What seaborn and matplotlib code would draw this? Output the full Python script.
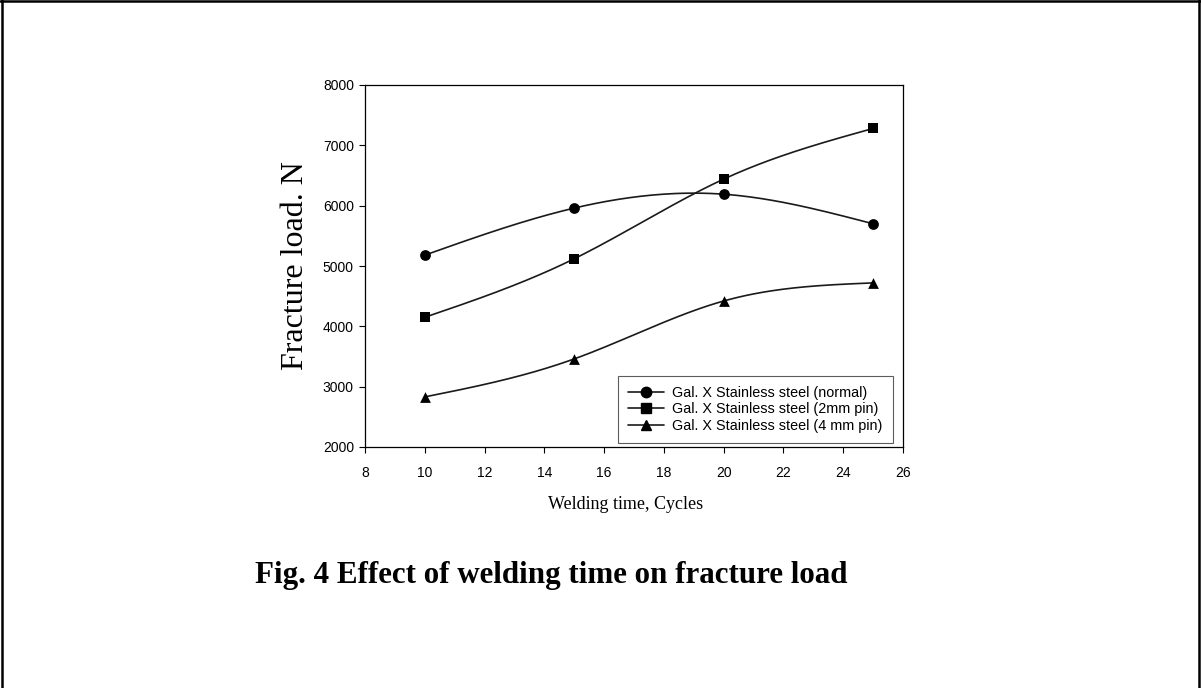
import numpy as np
import pandas as pd
import matplotlib
matplotlib.use("Agg")
import matplotlib.pyplot as plt
import seaborn as sns
from matplotlib.lines import Line2D

# ---------------- data ----------------
welding_time = [10, 15, 20, 25]
load_normal = [5180, 5960, 6190, 5700]
load_2mm = [4150, 5120, 6440, 7280]
load_4mm = [2830, 3460, 4420, 4720]
series_labels = ["Gal. X Stainless steel (normal)",
                 "Gal. X Stainless steel (2mm pin)",
                 "Gal. X Stainless steel (4 mm pin)"]
series_markers = ["o", "s", "^"]
x_ticks = [8, 10, 12, 14, 16, 18, 20, 22, 24, 26]
y_ticks = [2000, 3000, 4000, 5000, 6000, 7000, 8000]
x_label = "Welding time, Cycles"
y_label = "Fracture load. N"
caption = "Fig. 4 Effect of welding time on fracture load"


def natural_spline(x, y, n=200):
    """Smooth curve through the data points (natural cubic spline)."""
    x = np.asarray(x, float)
    y = np.asarray(y, float)
    k = len(x)
    h = np.diff(x)
    A = np.zeros((k, k))
    b = np.zeros(k)
    A[0, 0] = A[-1, -1] = 1.0
    for i in range(1, k - 1):
        A[i, i - 1] = h[i - 1]
        A[i, i] = 2 * (h[i - 1] + h[i])
        A[i, i + 1] = h[i]
        b[i] = 6 * ((y[i + 1] - y[i]) / h[i] - (y[i] - y[i - 1]) / h[i - 1])
    M = np.linalg.solve(A, b)
    xs = np.linspace(x[0], x[-1], n)
    idx = np.clip(np.searchsorted(x, xs) - 1, 0, k - 2)
    x0, x1 = x[idx], x[idx + 1]
    hh = x1 - x0
    t0, t1 = x1 - xs, xs - x0
    ys = (M[idx] * t0 ** 3 + M[idx + 1] * t1 ** 3) / (6 * hh) \
        + (y[idx] / hh - M[idx] * hh / 6) * t0 \
        + (y[idx + 1] / hh - M[idx + 1] * hh / 6) * t1
    return xs, ys


sns.set_style("ticks")
plt.rcParams["font.family"] = ["Liberation Sans", "DejaVu Sans"]
plt.rcParams["text.color"] = "black"
plt.rcParams["axes.labelcolor"] = "black"

W, H = 1201, 688
fig = plt.figure(figsize=(W / 100, H / 100), dpi=100)
ax = fig.add_axes([365 / W, 1 - 447 / H, 538 / W, 362 / H])

line_color = "#1a1a1a"
handles = []
for vals, lab, mk in zip([load_normal, load_2mm, load_4mm], series_labels, series_markers):
    xs, ys = natural_spline(welding_time, vals)
    sns.lineplot(x=xs, y=ys, ax=ax, color=line_color, linewidth=1.2,
                 estimator=None, sort=False, legend=False)
    sns.scatterplot(x=welding_time, y=vals, ax=ax, marker=mk, s=60,
                    color="black", edgecolor="black", linewidth=0, zorder=3,
                    legend=False)
    handles.append(Line2D([], [], color=line_color, linewidth=1.2, marker=mk,
                          markersize=7.5, markerfacecolor="black",
                          markeredgecolor="black", label=lab))

ax.set_xlim(8, 26)
ax.set_ylim(2000, 8000)
ax.set_xticks(x_ticks)
ax.set_yticks(y_ticks)
ax.set_xticklabels([str(v) for v in x_ticks])
ax.set_yticklabels([str(v) for v in y_ticks])
ax.tick_params(axis="both", direction="out", length=4, width=0.8,
               labelsize=10, colors="black")
ax.tick_params(axis="x", pad=10)
ax.tick_params(axis="y", pad=4)
for sp in ax.spines.values():
    sp.set_visible(True)
    sp.set_color("black")
    sp.set_linewidth(0.9)

ax.set_xlabel(x_label, fontsize=13, family="Liberation Serif")
ax.xaxis.set_label_coords(0.485, -0.135)
ax.set_ylabel(y_label, fontsize=23, family="Liberation Serif")
ax.yaxis.set_label_coords(-0.103, 0.5)

leg = ax.legend(handles=handles, loc="lower right",
                bbox_to_anchor=(0.981, 0.011), borderaxespad=0,
                fontsize=10.4, handlelength=2.5, labelspacing=0.18,
                frameon=True, fancybox=False, edgecolor="#333333",
                borderpad=0.7, handletextpad=0.55)
leg.get_frame().set_linewidth(0.8)

fig.text(255 / W, 1 - 575 / H, caption, ha="left", va="center",
         fontsize=22.3, fontweight="bold", family="Liberation Serif")

# page border (left, top, right)
for xy in [([0.002, 0.002], [0, 1]), ([0, 1], [0.998, 0.998]), ([0.9985, 0.9985], [0, 1])]:
    fig.add_artist(Line2D(xy[0], xy[1], color="black", linewidth=1.8,
                          transform=fig.transFigure))

fig.savefig("out.png", dpi=100)
